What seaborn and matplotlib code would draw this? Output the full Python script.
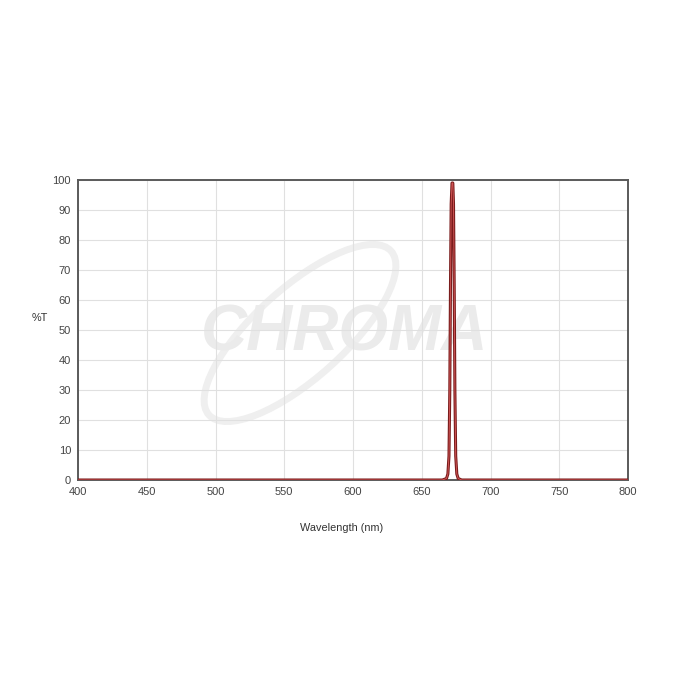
import numpy as np
import pandas as pd
import matplotlib
matplotlib.use("Agg")
import matplotlib.pyplot as plt
from matplotlib.patches import Ellipse
import seaborn as sns

# transmission curve (narrow band around 672 nm)
wavelength = [400, 665, 668, 669, 669.8, 670.4, 670.9, 671.4, 672.0, 672.6,
              673.1, 673.6, 674.1, 674.7, 675.5, 676.5, 679, 800]
transmission = [0, 0, 0.5, 2, 8, 30, 65, 92, 99, 99,
                92, 65, 30, 8, 2, 0.5, 0, 0]
x_ticks = [400, 450, 500, 550, 600, 650, 700, 750, 800]
y_ticks = [0, 10, 20, 30, 40, 50, 60, 70, 80, 90, 100]

df = pd.DataFrame({"wl": wavelength, "T": transmission})

sns.set_style("white")
plt.rcParams["font.family"] = ["Liberation Sans", "DejaVu Sans"]

fig = plt.figure(figsize=(7, 7), dpi=100)
ax = fig.add_axes([78 / 700, 220 / 700, 550 / 700, 300 / 700])
ax.set_axisbelow(True)

# faint watermark
ax.add_patch(Ellipse((300 / 700, 1 - 333 / 700), 245 / 700, 90 / 700, angle=42,
                     transform=fig.transFigure, fill=False, ec="#efefef", lw=5,
                     zorder=0.2, clip_on=False))
ax.text(345 / 700, 1 - 333 / 700, "CHROMA", transform=fig.transFigure,
        ha="center", va="center", fontsize=46, fontweight="bold", style="italic",
        color="#ebebeb", zorder=0.3)

sns.lineplot(data=df, x="wl", y="T", ax=ax, color="#7a1c1c", lw=2.2, zorder=3)
ax.plot(wavelength, transmission, color="#d85a5a", lw=0.6, zorder=4)

ax.set_xlim(400, 800)
ax.set_ylim(0, 100)
ax.set_xticks(x_ticks)
ax.set_yticks(y_ticks)
ax.grid(True, color="#e0e0e0", lw=0.8)
ax.tick_params(axis="both", labelsize=8, colors="#444444", length=3,
               color="#cccccc", pad=2)
for s in ax.spines.values():
    s.set_color("#5a5a5a")
    s.set_linewidth(1.4)
ax.set_xlabel("")
ax.set_ylabel("")
fig.text(40 / 700, 1 - 318 / 700, "%T", ha="center", va="center",
         fontsize=7.8, color="#333333")
fig.text(342 / 700, 1 - 528 / 700, "Wavelength (nm)", ha="center", va="center",
         fontsize=7.8, color="#333333")

fig.savefig("out.png", dpi=100)
